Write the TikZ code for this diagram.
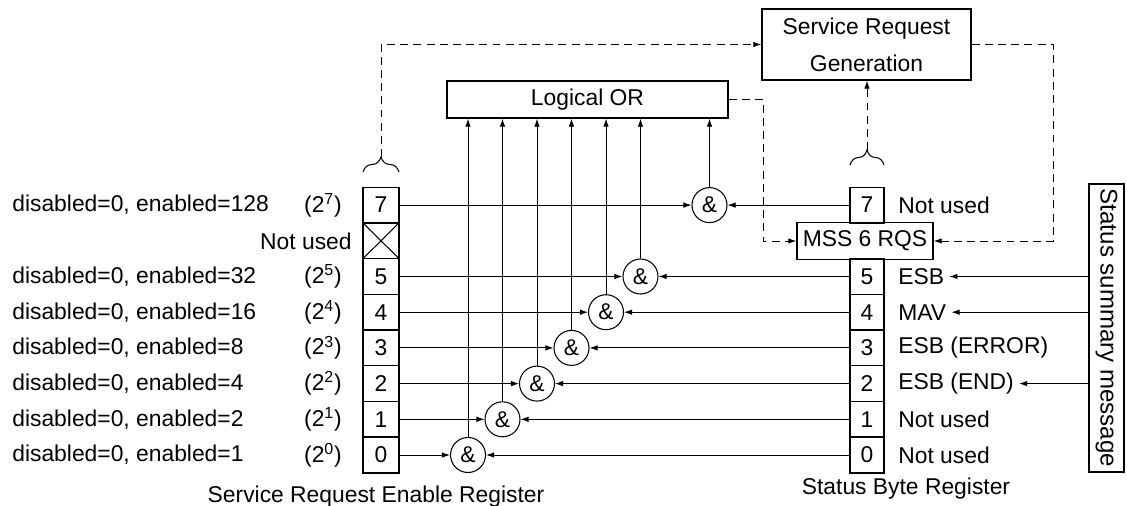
\documentclass[tikz,border=0pt]{standalone}
\usepackage{fontspec}
\setmainfont{Liberation Sans}
\usetikzlibrary{arrows.meta,decorations.pathreplacing}
\tikzset{
  >=Latex,
  every node/.style={font=\fontsize{13}{15}\selectfont},
  % --- nodes
  cell/.style   = {draw, line width=0.8pt, minimum width=7.2mm, minimum height=7.14mm, inner sep=0pt},
  sbcell/.style = {cell, minimum width=6.8mm},
  gate/.style   = {draw, circle, line width=0.6pt, minimum size=7mm, inner sep=0pt},
  blk/.style    = {draw, line width=0.8pt, align=center, inner sep=0pt},
  lbl/.style    = {anchor=west, inner sep=0pt},
  % --- edges
  e/.style      = {-{Latex[length=1.6mm,width=1.1mm]}, line width=0.5pt},
  ed/.style     = {e, dash pattern=on 4.5pt off 3pt},
  brc/.style    = {decorate, decoration={brace, amplitude=3mm}, line width=0.6pt},
}
\begin{document}
\begin{tikzpicture}[x=0.2mm, y=-0.2mm]
  \useasboundingbox (0,0) rectangle (1127,506);

  % service request enable register
  \foreach \b in {7,5,4,3,2,1,0}
    \node[cell] (s\b) at (381,455-35.7*\b) {\b};
  \node[cell] (sx) at (381,455-35.7*6) {};
  \draw[line width=0.6pt] (sx.north west) -- (sx.south east) (sx.south west) -- (sx.north east);
  \foreach \b/\v in {7/128,5/32,4/16,3/8,2/4,1/2,0/1} {
    \node[lbl] (d\b) at (12,455-35.7*\b) {disabled=0, enabled=\v};
    \node (p\b) at (323,455-35.7*\b) {(2\textsuperscript{\b})};
  }
  \node[anchor=east, inner sep=0pt] (nu) at (352,241) {Not used};
  \node (srel) at (376,497) {Service Request Enable Register};

  % and gates
  \foreach \b in {0,...,5}
    \node[gate] (g\b) at (468+34.5*\b,455-35.7*\b) {\&};
  \node[gate] (g7) at (709.5,455-35.7*7) {\&};

  % status byte register
  \foreach \b in {7,5,4,3,2,1,0}
    \node[sbcell] (b\b) at (867,455-35.7*\b) {\b};
  \node[blk, minimum width=27.2mm, minimum height=7.4mm] (mss) at (865,241) {MSS 6 RQS};
  \foreach \b/\t in {7/Not used,5/ESB,4/MAV,3/ESB (ERROR),2/ESB (END),1/Not used,0/Not used}
    \node[lbl] (l\b) at (898,455-35.7*\b) {\t};
  \node (sbrl) at (906,489) {Status Byte Register};
  \node[blk, rotate=-90, minimum width=57.6mm, minimum height=7mm,
        font=\fontsize{13.7}{15}\selectfont] (ssm) at (1106.5,328) {Status summary message};

  % or / request generation
  \node[blk, minimum width=56.2mm, minimum height=7.4mm] (or) at (587.5,99.5) {Logical OR};
  \node[blk, minimum width=41.8mm, minimum height=14.2mm, font=\fontsize{13}{21}\selectfont] (srg) at (866.5,44.5) {Service Request\\Generation};

  \foreach \b in {7,5,4,3,2,1,0} {
    \draw[e] (s\b) -- (g\b);
    \draw[e] (b\b) -- (g\b);
    \draw[e] (g\b) -- (g\b |- or.south);
  }
  \foreach \b in {5,4,2}
    \draw[e] (l\b -| ssm.south) -- ([xshift=1mm]l\b.east);

  \coordinate (c1) at (763,99.5);
  \draw[ed] (or.east) -- (c1) |- (mss.west);
  \coordinate (c2) at (1053,44.5);
  \draw[ed] (srg.east) -- (c2) |- (mss.east);
  \draw[brc] (363,172) -- (399,172);
  \draw[brc] (850,165) -- (884,165);
  \coordinate (t1) at (381,157);
  \draw[ed] (t1) |- (srg.west);
  \coordinate (t2) at (867,150);
  \draw[ed] (t2) -- (t2 |- srg.south);
\end{tikzpicture}
\end{document}
